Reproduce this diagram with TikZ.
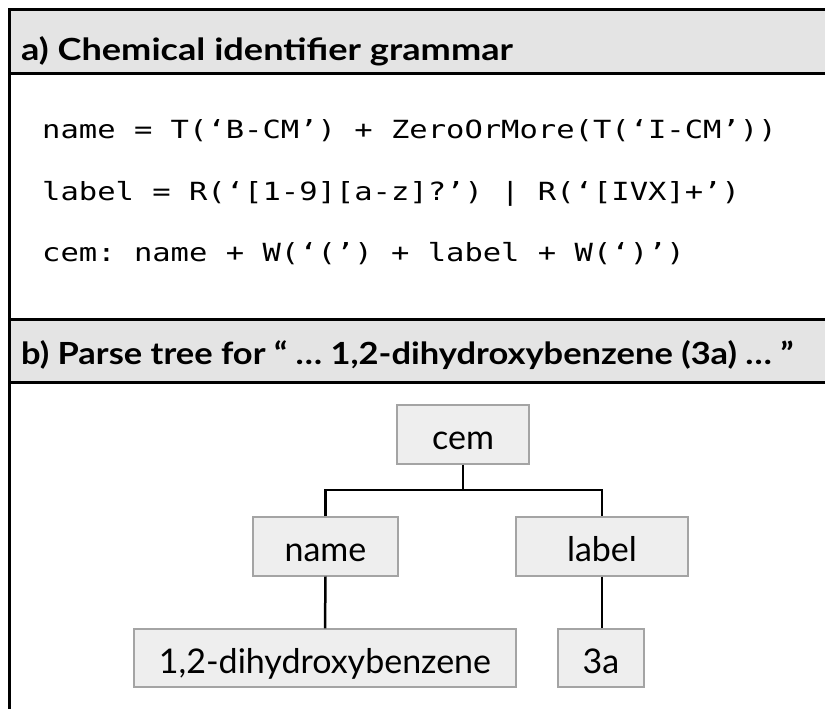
\documentclass[tikz,border=0pt]{standalone}
\usepackage{fontspec}
\setmainfont{Lato}
\newfontfamily\codefont[FakeStretch=1.22]{DejaVu Sans Mono}
\newfontfamily\hdrfonta[FakeStretch=1.185]{Lato}
\newfontfamily\hdrfontb[FakeStretch=1.13]{Lato}
\definecolor{hdrfill}{HTML}{E4E4E4}
\definecolor{boxfill}{HTML}{EEEEEE}
\definecolor{boxline}{HTML}{A4A4A4}
\tikzset{
  frameline/.style={line width=3pt, black},
  hdrtext/.style={anchor=base west, inner sep=0pt},
  codetext/.style={anchor=base west, inner sep=0pt, font=\fontsize{25}{30}\codefont\frenchspacing},
  treebox/.style={draw=boxline, fill=boxfill, line width=1.2pt, inner sep=0pt,
    text height=30pt, text depth=0pt, align=center, font=\fontsize{34}{40}\selectfont},
  conn/.style={line width=2.5pt, black}
}
\begin{document}
\begin{tikzpicture}[x=1pt,y=-1pt]
\useasboundingbox (0,0) rectangle (825,709);
% headers
\fill[hdrfill] (9,10) rectangle (825,74);
\fill[hdrfill] (9,319) rectangle (825,382);
\draw[frameline] (825,10) -- (9,10) -- (9,709);
\draw[frameline] (9,74) -- (825,74);
\draw[frameline] (9,319) -- (825,319);
\draw[frameline] (9,382) -- (825,382);
\node[hdrtext, font=\fontsize{30.5}{36}\hdrfonta\bfseries] (ha) at (21,61) {a) Chemical identifier grammar};
\node[hdrtext, font=\fontsize{30.5}{36}\hdrfontb\bfseries] (hb) at (21,364) {b) Parse tree for “ … 1,2-dihydroxybenzene (3a) … ”};
% grammar
\node[codetext] (c1) at (42,138) {name = T(‘B-CM’) + ZeroOrMore(T(‘I-CM’))};
\node[codetext] (c2) at (42,200) {label = R(‘[1-9][a-z]?’) | R(‘[IVX]+’)};
\node[codetext] (c3) at (42,261) {cem: name + W(‘(’) + label + W(‘)’)};
% tree
\node[treebox, minimum width=132pt, minimum height=59pt] (cem) at (463,434.5) {cem};
\node[treebox, minimum width=145pt, minimum height=59pt] (name) at (325.5,546.5) {name};
\node[treebox, minimum width=172pt, minimum height=59pt] (label) at (602,546.5) {label};
\node[treebox, minimum width=382pt, minimum height=58pt] (dhb) at (325,658) {1,2-dihydroxybenzene};
\node[treebox, minimum width=86pt, minimum height=58pt] (tha) at (601,658) {3a};
\coordinate (j) at (463,490);
\draw[conn] (cem.south) -- (j);
\draw[conn] (name.north) |- (j) -| (label.north);
\draw[conn] (name.south) -- (dhb.north);
\draw[conn] (label.south) -- (label.south |- tha.north);
\end{tikzpicture}
\end{document}
